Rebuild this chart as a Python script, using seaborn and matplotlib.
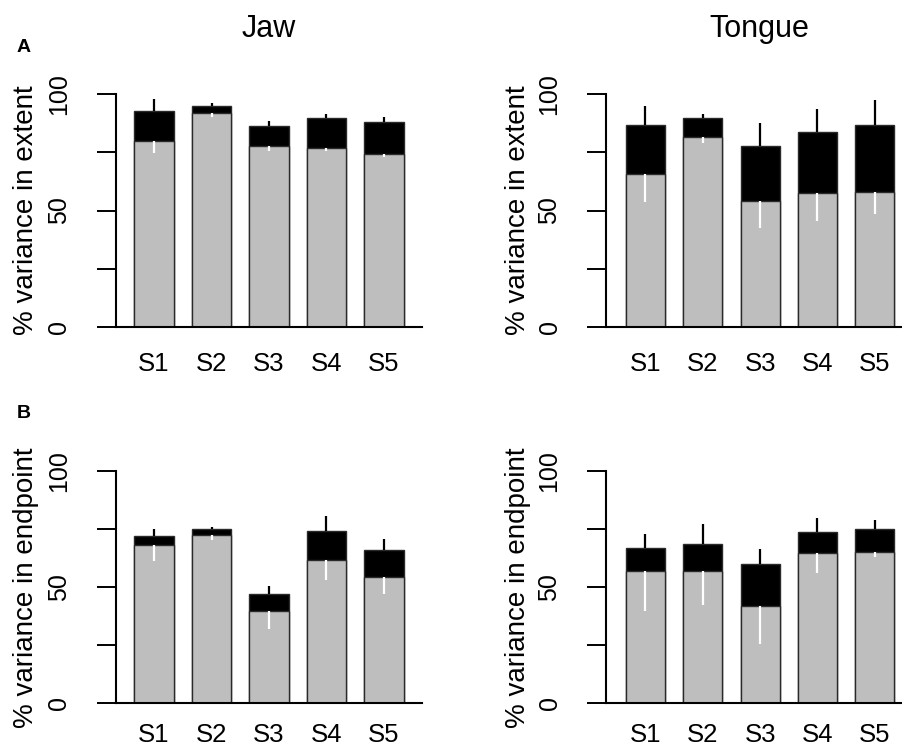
import numpy as np
import pandas as pd
import seaborn as sns
import matplotlib.pyplot as plt

sns.set_style('ticks')
plt.rcParams['font.family'] = ['Liberation Sans', 'DejaVu Sans']
plt.rcParams['text.color'] = 'black'
plt.rcParams['axes.labelcolor'] = 'black'
plt.rcParams['xtick.color'] = 'black'
plt.rcParams['ytick.color'] = 'black'

subjects = ['S1', 'S2', 'S3', 'S4', 'S5']

# panel A: extent
jaw_ext_base = [80.0, 91.8, 77.9, 76.9, 74.2]
jaw_ext_base_err = [5.1, 1.4, 2.3, 1.4, 1.3]
jaw_ext_total = [93.0, 95.1, 86.4, 90.0, 87.9]
jaw_ext_total_err = [5.0, 1.0, 2.1, 1.5, 2.5]

tongue_ext_base = [65.7, 81.5, 54.1, 57.5, 58.1]
tongue_ext_base_err = [12.2, 2.6, 11.8, 12.2, 9.8]
tongue_ext_total = [86.9, 90.0, 77.8, 83.9, 86.9]
tongue_ext_total_err = [8.2, 1.5, 9.7, 9.6, 10.8]

# panel B: endpoint
jaw_end_base = [68.0, 72.6, 39.9, 61.8, 54.3]
jaw_end_base_err = [6.6, 2.2, 8.0, 8.6, 7.2]
jaw_end_total = [72.1, 74.9, 47.3, 74.4, 66.2]
jaw_end_total_err = [2.9, 1.0, 3.1, 6.1, 4.8]

tongue_end_base = [57.2, 56.8, 42.1, 64.9, 65.4]
tongue_end_base_err = [17.3, 14.3, 16.5, 8.9, 2.2]
tongue_end_total = [66.8, 68.8, 60.2, 73.9, 75.3]
tongue_end_total_err = [6.0, 8.6, 6.2, 6.1, 3.7]

panels = [
    # (axes rect, base, base_err, total, total_err, ylabel, title, xlim, ylabel x, xtick pad)
    ([0.1283, 0.5632, 0.3392, 0.3107], jaw_ext_base, jaw_ext_base_err, jaw_ext_total, jaw_ext_total_err,
     '% variance in extent', 'Jaw', (-0.666, 4.656), -0.25, 18),
    ([0.6718, 0.5632, 0.3399, 0.3107], tongue_ext_base, tongue_ext_base_err, tongue_ext_total, tongue_ext_total_err,
     '% variance in extent', 'Tongue', (-0.685, 4.656), -0.245, 18),
    ([0.1283, 0.0598, 0.3392, 0.3102], jaw_end_base, jaw_end_base_err, jaw_end_total, jaw_end_total_err,
     '% variance in endpoint', None, (-0.666, 4.656), -0.25, 14),
    ([0.6718, 0.0598, 0.3399, 0.3102], tongue_end_base, tongue_end_base_err, tongue_end_total, tongue_end_total_err,
     '% variance in endpoint', None, (-0.685, 4.656), -0.245, 14),
]

fig = plt.figure(figsize=(9.02, 7.48), dpi=100)

for rect, base, base_err, total, total_err, ylab, title, xlim, labx, xpad in panels:
    ax = fig.add_axes(rect)
    df = pd.DataFrame({'subject': subjects, 'base': base, 'total': total})
    # black = total explained, grey = base part drawn over it
    sns.barplot(data=df, x='subject', y='total', color='black', saturation=1, width=0.68,
                edgecolor='#2a2a2a', linewidth=1.0, ax=ax)
    sns.barplot(data=df, x='subject', y='base', color='#bebebe', saturation=1, width=0.68,
                edgecolor='#2a2a2a', linewidth=1.0, ax=ax)
    xpos = np.arange(len(subjects))
    ax.vlines(xpos, np.array(total), np.array(total) + np.array(total_err), color='black', lw=1.6, clip_on=False)
    ax.vlines(xpos, np.array(base) - np.array(base_err), np.array(base), color='white', lw=1.6, clip_on=False)

    ax.set_xlim(*xlim)
    ax.set_ylim(0, 100)
    ax.set_yticks([0, 25, 50, 75, 100])
    ax.set_yticklabels(['0', '', '50', '', '100'])
    ax.tick_params(axis='y', length=14, width=1.4, pad=18, labelsize=18, labelrotation=90, color='black')
    ax.tick_params(axis='x', length=0, pad=xpad, labelsize=18.5)
    for lab in ax.get_yticklabels():
        lab.set_va('center')
    ax.set_xlabel('')
    ax.set_ylabel(ylab, fontsize=20)
    ax.yaxis.set_label_coords(labx, 0.5)
    for s in ['top', 'right']:
        ax.spines[s].set_visible(False)
    ax.spines['left'].set_linewidth(1.5)
    ax.spines['bottom'].set_linewidth(1.5)
    ax.spines['left'].set_color('black')
    ax.spines['bottom'].set_color('black')
    if title:
        ax.set_title(title, fontsize=22, pad=41)

fig.text(24 / 902, 1 - 48 / 748, 'A', fontsize=14, fontweight='bold', ha='center', va='center')
fig.text(24 / 902, 1 - 413 / 748, 'B', fontsize=14, fontweight='bold', ha='center', va='center')

plt.savefig('out.png', dpi=100)
